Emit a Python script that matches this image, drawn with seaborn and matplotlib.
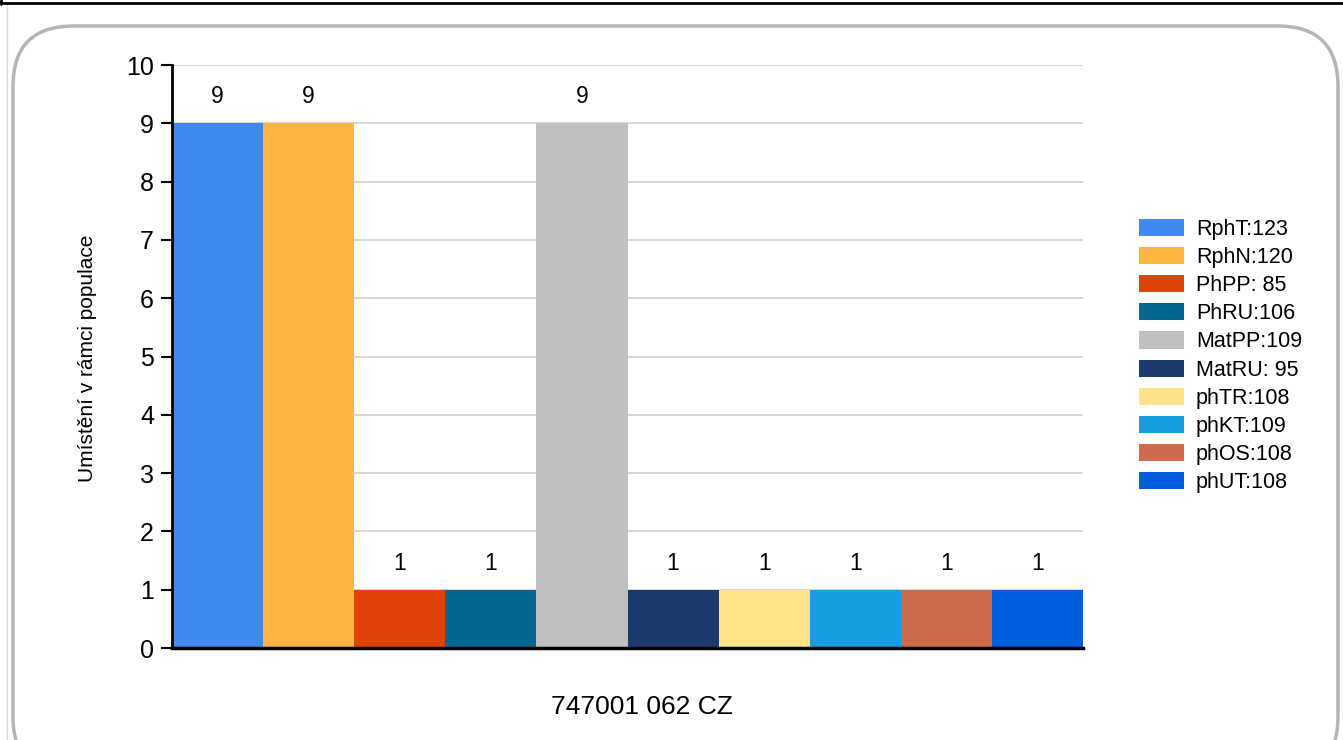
import matplotlib
matplotlib.use("Agg")
import matplotlib.pyplot as plt
import seaborn as sns
import pandas as pd
from matplotlib.patches import FancyBboxPatch, Rectangle
from matplotlib.lines import Line2D

category = "747001 062 CZ"
series = ["RphT:123", "RphN:120", "PhPP: 85", "PhRU:106", "MatPP:109",
          "MatRU: 95", "phTR:108", "phKT:109", "phOS:108", "phUT:108"]
values = [9, 9, 1, 1, 9, 1, 1, 1, 1, 1]
colors = ["#4189EE", "#FBB540", "#E0430A", "#036891", "#C0C0C0",
          "#1A3A6C", "#FFE38A", "#14A0E0", "#CC6A4B", "#005FDB"]
y_label = "Umístění v rámci populace"
y_ticks = list(range(0, 11))

df = pd.DataFrame({"cat": [category] * len(series), "series": series, "value": values})

sns.set_theme(style="white")
plt.rcParams['font.family'] = ['Liberation Sans', 'DejaVu Sans']
plt.rcParams['text.color'] = 'black'
plt.rcParams['axes.labelcolor'] = 'black'
plt.rcParams['xtick.color'] = 'black'
plt.rcParams['ytick.color'] = 'black'

fig = plt.figure(figsize=(13.43, 7.40), dpi=100)
ax = fig.add_axes([172/1343, 1-648/740, (1083-172)/1343, (648-65)/740])

sns.barplot(data=df, x="cat", y="value", hue="series", hue_order=series,
            palette=colors, width=1.0, dodge=True, ax=ax, saturation=1,
            legend=False, linewidth=0)

ax.set_xlim(-0.5, 0.5)
ax.set_ylim(0, 10)
ax.set_yticks(y_ticks)
ax.yaxis.grid(True, color="#D0D0D0", linewidth=1.2)
ax.set_axisbelow(True)
for s in ["top", "right"]:
    ax.spines[s].set_visible(False)
ax.spines["left"].set_color("black")
ax.spines["left"].set_linewidth(2)
ax.spines["bottom"].set_color("black")
ax.spines["bottom"].set_linewidth(2.5)
ax.tick_params(axis="y", which="both", left=True, length=8, width=1.5,
               color="black", labelcolor="black", labelsize=18, pad=5)
ax.tick_params(axis="x", length=0, labelbottom=False)
ax.set_xlabel(category, fontsize=19, color="black")
ax.xaxis.label.set_va("center")
ax.xaxis.set_label_coords((642-172)/911, -(707-648)/583)
ax.set_ylabel(y_label, fontsize=15, color="black")
ax.yaxis.label.set_va("center")
ax.yaxis.set_label_coords(-(172-88)/911, (648-358)/583)

for cont in ax.containers:
    for bar in cont:
        h = bar.get_height()
        ax.annotate(f"{int(h)}", (bar.get_x() + bar.get_width()/2, h),
                    xytext=(0, 19), textcoords="offset points",
                    ha="center", va="center", fontsize=16.5, color="black")

handles = [Rectangle((0, 0), 1, 1, facecolor=c, edgecolor="none") for c in colors]
leg = fig.legend(handles, series, loc="center left", bbox_to_anchor=(1139/1343, 1-356/740),
                 frameon=False, fontsize=15.5, handlelength=2.1, handleheight=0.85,
                 labelspacing=0.33, handletextpad=0.55, borderaxespad=0, borderpad=0)
for t in leg.get_texts():
    t.set_color("black")

# decorative frame
fig.patches.append(FancyBboxPatch((13/1343, -0.05), (1338-13)/1343, (727-13)/740 + 0.05,
                                  boxstyle="round,pad=0,rounding_size=0.045",
                                  transform=fig.transFigure, facecolor="none",
                                  edgecolor="#B5B5B5", linewidth=2.5, mutation_aspect=1343/740))
fig.lines.append(Line2D([0, 1], [1-3/740, 1-3/740], transform=fig.transFigure,
                        color="black", linewidth=2))
fig.lines.append(Line2D([1/1343, 1/1343], [1, 1-4/740], transform=fig.transFigure,
                        color="black", linewidth=2))
fig.lines.append(Line2D([7/1343, 7/1343], [1-6/740, 0], transform=fig.transFigure,
                        color="#D8D8D8", linewidth=1))

fig.savefig("out.png", dpi=100)
